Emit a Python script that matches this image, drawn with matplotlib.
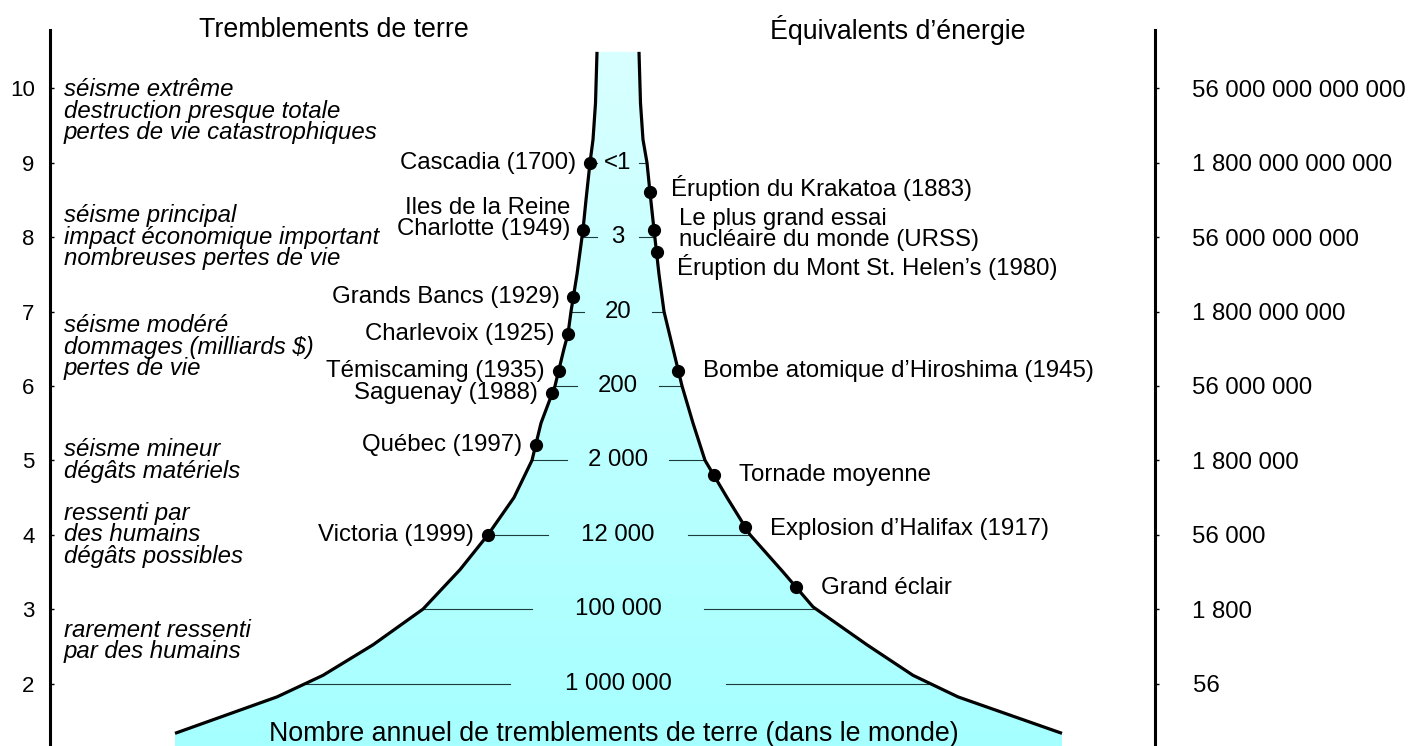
import numpy as np
import matplotlib
matplotlib.use('Agg')
import matplotlib.pyplot as plt
from matplotlib.patches import Polygon
from matplotlib.colors import LinearSegmentedColormap

plt.rcParams['font.family'] = ['Liberation Sans', 'DejaVu Sans']

# ---------------- data ----------------
magnitudes = [2, 3, 4, 5, 6, 7, 8, 9, 10]
energy_labels = ['56', '1 800', '56 000', '1 800 000', '56 000 000',
                 '1 800 000 000', '56 000 000 000', '1 800 000 000 000',
                 '56 000 000 000 000']

count_mags = [2, 3, 4, 5, 6, 7, 8, 9]
count_labels = ['1 000 000', '100 000', '12 000', '2 000', '200', '20', '3', '<1']

# funnel outline (magnitude, horizontal position)
funnel_left_mag = [1.33, 1.82, 2.11, 2.52, 3.0, 3.53, 4.0, 4.5, 5.0, 5.5, 6.0,
                   6.5, 6.7, 7.0, 7.5, 8.1, 8.5, 9.0, 9.31, 9.8, 10.49]
funnel_left_x = [175, 277, 323, 373, 423, 460, 488, 514, 532, 541, 555,
                 564, 568, 571, 577, 583, 586, 590, 593, 595.5, 597]
funnel_right_mag = [1.33, 1.82, 2.11, 2.52, 3.03, 3.5, 4.0, 4.5, 5.0, 5.5, 6.0,
                    6.5, 7.0, 7.5, 8.1, 8.6, 9.0, 9.31, 9.8, 10.49]
funnel_right_x = [1062, 958, 913, 867, 813, 783, 750, 727, 705, 693, 682,
                  673, 664, 659, 654, 650, 647, 643, 640.5, 639]

quake_names = ['Cascadia (1700)', 'Iles de la Reine\nCharlotte (1949)',
               'Grands Bancs (1929)', 'Charlevoix (1925)', 'Témiscaming (1935)',
               'Saguenay (1988)', 'Québec (1997)', 'Victoria (1999)']
quake_mags = [9.0, 8.1, 7.2, 6.7, 6.2, 5.9, 5.2, 4.0]

energy_names = ['Éruption du Krakatoa (1883)',
                'Le plus grand essai\nnucléaire du monde (URSS)',
                'Éruption du Mont St. Helen’s (1980)',
                'Bombe atomique d’Hiroshima (1945)',
                'Tornade moyenne', 'Explosion d’Halifax (1917)', 'Grand éclair']
energy_mags = [8.6, 8.1, 7.8, 6.2, 4.8, 4.1, 3.3]

effect_texts = ['séisme extrême\ndestruction presque totale\npertes de vie catastrophiques',
                'séisme principal\nimpact économique important\nnombreuses pertes de vie',
                'séisme modéré\ndommages (milliards $)\npertes de vie',
                'séisme mineur\ndégâts matériels',
                'ressenti par\ndes humains\ndégâts possibles',
                'rarement ressenti\npar des humains']
effect_mags = [9.69, 8.0, 6.52, 5.0, 4.0, 2.57]

# ---------------- layout / style ----------------
W, H = 1411, 746
Y_BOT, Y_TOP = 1.16, 11.187
SPINE_TOP = 10.79
LEFT_SPINE_X, RIGHT_SPINE_X = 50, 1155
CENTER_X = 618
half_gaps = [108, 86, 70, 51, 41, 34, 21, 21]
FS = 17.3

fig = plt.figure(figsize=(W / 100, H / 100), dpi=100)
ax = fig.add_axes([0, 0, 1, 1])
ax.set_xlim(0, W)
ax.set_ylim(Y_BOT, Y_TOP)
ax.patch.set_visible(False)

# funnel fill with vertical gradient
lm = np.array(funnel_left_mag); lx = np.array(funnel_left_x)
rm = np.array(funnel_right_mag); rx = np.array(funnel_right_x)
poly_pts = ([(x, m) for m, x in zip(lm[::-1], lx[::-1])] +
            [(lx[0], Y_BOT - 0.5), (rx[0], Y_BOT - 0.5)] +
            [(x, m) for m, x in zip(rm, rx)])
poly = Polygon(poly_pts, closed=True, facecolor='none', edgecolor='none')
ax.add_patch(poly)
cmap = LinearSegmentedColormap.from_list('cy', [(0.64, 1.0, 1.0), (0.85, 1.0, 1.0)])
grad = np.linspace(0, 1, 256).reshape(-1, 1)
im = ax.imshow(grad, extent=[lx.min(), rx.max(), Y_BOT - 0.5, lm.max()],
               origin='lower', aspect='auto', cmap=cmap, zorder=1)
im.set_clip_path(poly)
ax.set_xlim(0, W)
ax.set_ylim(Y_BOT, Y_TOP)

# funnel outlines
ax.plot(lx, lm, color='black', lw=2.3, zorder=4, solid_capstyle='butt')
ax.plot(rx, rm, color='black', lw=2.3, zorder=4, solid_capstyle='butt')

# count lines and labels
for m, lab, g in zip(count_mags, count_labels, half_gaps):
    xl = np.interp(m, lm, lx)
    xr = np.interp(m, rm, rx)
    if CENTER_X - g > xl:
        ax.plot([xl, CENTER_X - g], [m, m], color='#1c3c3c', lw=0.8, zorder=3)
    if CENTER_X + g < xr:
        ax.plot([CENTER_X + g, xr], [m, m], color='#1c3c3c', lw=0.8, zorder=3)
    ax.text(CENTER_X, m, lab, ha='center', va='center', fontsize=FS, zorder=5)

# earthquake dots + labels (left side)
quake_offsets = [(-10, 0), (-9, 8.3), (-10, 0), (-10, 0), (-10, 0), (-10, 0), (-10, 0), (-10, 0)]
for name, m, off in zip(quake_names, quake_mags, quake_offsets):
    x = np.interp(m, lm, lx)
    ax.plot([x], [m], 'o', color='black', ms=8.5, zorder=6)
    ax.annotate(name, xy=(x, m), xytext=off, textcoords='offset points',
                ha='right', va='center', fontsize=FS, multialignment='right',
                linespacing=0.95, zorder=6)

# energy-equivalent dots + labels (right side)
energy_offsets = [(15, 3), (18, 0), (15, -11), (18, 0), (18, 0), (18, -1), (18, -1)]
for name, m, off in zip(energy_names, energy_mags, energy_offsets):
    x = np.interp(m, rm, rx)
    ax.plot([x], [m], 'o', color='black', ms=8.5, zorder=6)
    ax.annotate(name, xy=(x, m), xytext=off, textcoords='offset points',
                ha='left', va='center', fontsize=FS, linespacing=0.95, zorder=6)

# effect descriptions
for txt, m in zip(effect_texts, effect_mags):
    ax.text(64, m, txt, ha='left', va='center', fontsize=FS, style='italic',
            linespacing=0.92)

# headings
ax.text(334, 10.79, 'Tremblements de terre', ha='center', va='center', fontsize=19.3)
ax.text(898, 10.79, 'Équivalents d’énergie', ha='center', va='center', fontsize=19.3)
ax.text(614, 1.32, 'Nombre annuel de tremblements de terre (dans le monde)',
        ha='center', va='center', fontsize=19.3, zorder=6)

# left axis
for s in ['top', 'bottom', 'right']:
    ax.spines[s].set_visible(False)
ax.spines['left'].set_position(('data', LEFT_SPINE_X))
ax.spines['left'].set_bounds(Y_BOT, SPINE_TOP)
ax.spines['left'].set_linewidth(2.2)
ax.xaxis.set_visible(False)
ax.set_yticks(magnitudes)
ax.set_yticklabels([str(m) for m in magnitudes])
ax.tick_params(axis='y', direction='in', length=3, width=1, pad=11, labelsize=16)

# right axis (energy)
ax2 = ax.twinx()
ax2.set_ylim(Y_BOT, Y_TOP)
for s in ['top', 'bottom', 'left']:
    ax2.spines[s].set_visible(False)
ax2.spines['right'].set_position(('data', RIGHT_SPINE_X))
ax2.spines['right'].set_bounds(Y_BOT, SPINE_TOP)
ax2.spines['right'].set_linewidth(2.2)
ax2.set_yticks(magnitudes)
ax2.set_yticklabels(energy_labels)
ax2.tick_params(axis='y', direction='out', length=3, width=1, pad=24, labelsize=FS)

fig.savefig('out.png', dpi=100)
